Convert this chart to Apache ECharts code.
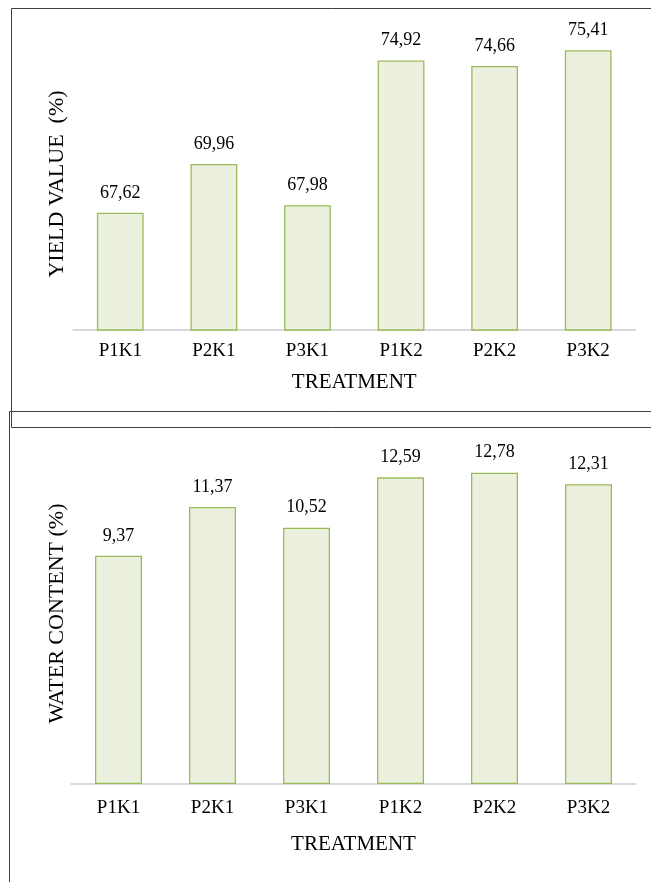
<!DOCTYPE html>
<html><head><meta charset="utf-8">
<script src="https://cdn.jsdelivr.net/npm/echarts@6/dist/echarts.min.js"></script>
<style>html,body{margin:0;padding:0;background:#fff}#c{width:651px;height:882px}</style>
</head><body><div id="c"></div>
<script>
const categories = ['P1K1','P2K1','P3K1','P1K2','P2K2','P3K2'];
const yieldValues = [67.62, 69.96, 67.98, 74.92, 74.66, 75.41];
const waterValues = [9.37, 11.37, 10.52, 12.59, 12.78, 12.31];
const xTitle = 'TREATMENT';
const yieldTitle = 'YIELD VALUE  (%)';
const waterTitle = 'WATER CONTENT (%)';

const font = 'Liberation Serif';
const fmt = p => p.value.toFixed(2).replace('.', ',');
const barStyle = { color: '#ebf1de', borderColor: '#9bbb59', borderWidth: 1.3 };
const labelCfg = { show: true, position: 'top', distance: 11, formatter: fmt, color: '#000', fontFamily: font, fontSize: 18 };
function xAx(i, margin, gap){ return { type:'category', gridIndex:i, data:categories,
  axisLine:{lineStyle:{color:'#d9d9d9',width:2}}, axisTick:{show:false},
  axisLabel:{color:'#000',fontFamily:font,fontSize:19,margin:margin},
  name:xTitle, nameLocation:'middle', nameGap:gap, nameTextStyle:{color:'#000',fontFamily:font,fontSize:21} }; }
function yAx(i,min,max,name,gap){ return { type:'value', gridIndex:i, min:min, max:max,
  axisLine:{show:false}, axisTick:{show:false}, axisLabel:{show:false}, splitLine:{show:false},
  name:name, nameLocation:'middle', nameGap:gap, nameRotate:90, nameTextStyle:{color:'#000',fontFamily:font,fontSize:22} }; }

const chart = echarts.init(document.getElementById('c'), null, {renderer:'canvas'});
chart.setOption({
  animation:false,
  grid:[{left:73.5, right:16, top:38, height:292},{left:71.5, right:15.5, top:443, height:341}],
  xAxis:[xAx(0,12,42), xAx(1,15,50)],
  yAxis:[yAx(0,62,76,yieldTitle,5), yAx(1,0,14,waterTitle,3.5)],
  series:[
    {type:'bar', xAxisIndex:0, yAxisIndex:0, data:yieldValues, barWidth:'50%', itemStyle:barStyle, label:labelCfg},
    {type:'bar', xAxisIndex:1, yAxisIndex:1, data:waterValues, barWidth:'50%', itemStyle:barStyle, label:labelCfg}
  ],
  graphic:[
    {type:'polyline', shape:{points:[[660,8.5],[11.5,8.5],[11.5,427.5],[660,427.5]]}, style:{stroke:'#404040',fill:null,lineWidth:1}},
    {type:'polyline', shape:{points:[[660,411.5],[9.5,411.5],[9.5,890]]}, style:{stroke:'#404040',fill:null,lineWidth:1}}
  ]
});
</script></body></html>
